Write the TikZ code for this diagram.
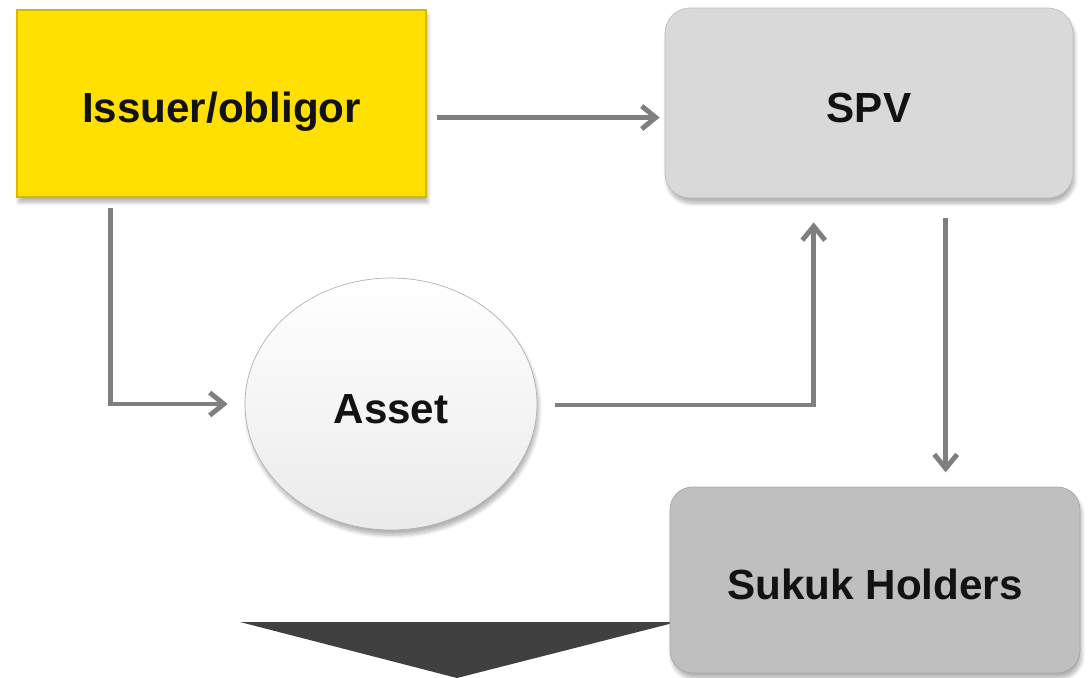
\documentclass[tikz,border=0pt]{standalone}
\usepackage{fontspec}
\setmainfont{Liberation Sans}
\usetikzlibrary{arrows.meta,shadows.blur,shapes.geometric}

\definecolor{issuerfill}{RGB}{255,224,0}
\definecolor{issueredge}{RGB}{214,184,0}
\definecolor{spvfill}{RGB}{217,217,217}
\definecolor{holderfill}{RGB}{191,191,191}
\definecolor{flowgray}{RGB}{127,127,127}
\definecolor{pointer}{RGB}{64,64,64}

\begin{document}
\begin{tikzpicture}[x=0.02cm,y=-0.02cm,
    party/.style={font=\fontsize{24}{28}\selectfont\bfseries,text=black!93,
      text height=24pt,text depth=2pt,
      blur shadow={shadow xshift=1pt,shadow yshift=-3pt,shadow blur steps=8,shadow opacity=30}},
    flow/.style={draw=flowgray,line width=2.8pt,-{Straight Barb[length=8pt,width=13pt]}}]
  \useasboundingbox (0,0) rectangle (1088,678);
  % big pointer under the asset
  \fill [pointer] (240,622) -- (677,622) -- (457,678) -- cycle;
  \node [party,fill=issuerfill,draw=issueredge,line width=0.8pt,
    minimum width=8.18cm,minimum height=3.74cm] (issuer) at (221.5,103.5) {Issuer/obligor};
  \node [party,fill=spvfill,draw=black!25,rounded corners=0.5cm,
    minimum width=8.16cm,minimum height=3.8cm] (spv) at (869,103) {SPV};
  \node [party,ellipse,top color=white,bottom color=black!8,draw=black!30,
    minimum width=5.84cm,minimum height=5.04cm] (asset) at (391,404) {Asset};
  \node [party,fill=holderfill,draw=black!35,rounded corners=0.45cm,
    minimum width=8.2cm,minimum height=3.72cm] (holders) at (875,580) {Sukuk Holders};
  % flows
  \draw [flow] ([shift={(10,14)}]issuer.east) -- ++(223,0);
  \draw [flow] ([shift={(94,10)}]issuer.south west) |- ([shift={(-17,0)}]asset.west);
  \draw [flow] ([shift={(18,1)}]asset.east) -| ([shift={(149,24)}]spv.south west);
  \draw [flow] ([shift={(281,20)}]spv.south west) -- ++(0,254);
\end{tikzpicture}
\end{document}
